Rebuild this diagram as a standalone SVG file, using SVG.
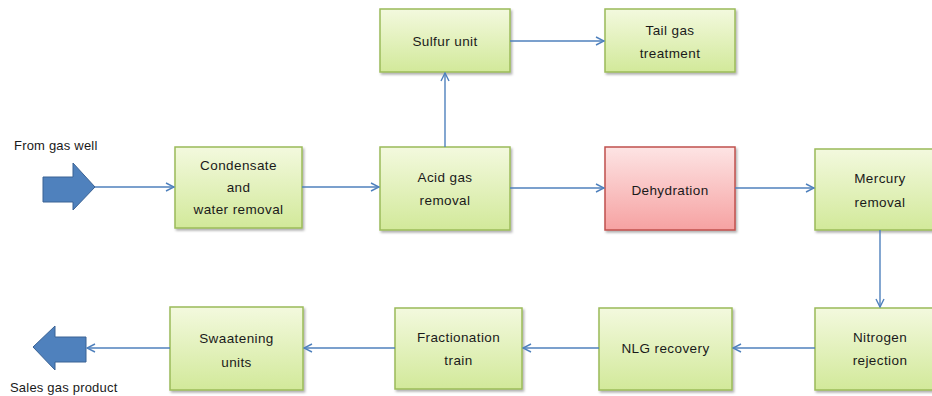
<svg xmlns="http://www.w3.org/2000/svg" width="932" height="396" viewBox="0 0 932 396">
<defs>
<linearGradient id="gg" x1="0" y1="0" x2="0" y2="1">
<stop offset="0" stop-color="#f3f9de"/>
<stop offset="1" stop-color="#d2e99a"/>
</linearGradient>
<linearGradient id="rg" x1="0" y1="0" x2="0" y2="1">
<stop offset="0" stop-color="#fde4e4"/>
<stop offset="1" stop-color="#f6a2a2"/>
</linearGradient>
<filter id="sh" x="-10%" y="-10%" width="125%" height="130%">
<feDropShadow dx="1.5" dy="2" stdDeviation="1.2" flood-color="#000" flood-opacity="0.3"/>
</filter>
<marker id="ah" markerWidth="10" markerHeight="10" refX="9" refY="5" orient="auto" markerUnits="userSpaceOnUse">
<path d="M1,1 L9,5 L1,9" fill="none" stroke="#4f81bd" stroke-width="1.4"/>
</marker>
</defs>
<style>
.g{fill:url(#gg);stroke:#9bbb59;stroke-width:1.5;filter:url(#sh)}
.r{fill:url(#rg);stroke:#c0504d;stroke-width:1.5;filter:url(#sh)}
.t{font-family:"Liberation Sans",Arial,sans-serif;font-size:13.5px;fill:#1a1a1a;text-anchor:middle;letter-spacing:0.4px}
.l{font-family:"Liberation Sans",Arial,sans-serif;font-size:13px;fill:#1a1a1a;letter-spacing:0.2px}
.c{fill:none;stroke:#4f81bd;stroke-width:1.4;marker-end:url(#ah)}
.b{fill:#4f81bd;stroke:#3a6294;stroke-width:1}
</style>
<g id="from-gas-well">
<path class="b" d="M43,177 L73,177 L73,163 L95,187 L73,210 L73,202 L43,202 Z"/>
<text class="l" x="14" y="150">From gas well</text>
</g>
<g id="sales-gas">
<path class="b" d="M86,337 L55,337 L55,326 L33,347 L55,370 L55,362 L86,362 Z"/>
<text class="l" x="10" y="392">Sales gas product</text>
</g>
<g id="condensate">
<rect class="g" x="175" y="147" width="127" height="81"/>
<text class="t" x="238.5" y="170">Condensate</text>
<text class="t" x="238.5" y="192">and</text>
<text class="t" x="238.5" y="214">water removal</text>
</g>
<g id="acid-gas">
<rect class="g" x="380" y="147" width="130" height="83"/>
<text class="t" x="445" y="182">Acid gas</text>
<text class="t" x="445" y="205">removal</text>
</g>
<g id="sulfur">
<rect class="g" x="380" y="9" width="130" height="63"/>
<text class="t" x="445" y="46">Sulfur unit</text>
</g>
<g id="tail-gas">
<rect class="g" x="605" y="9" width="130" height="63"/>
<text class="t" x="670" y="35">Tail gas</text>
<text class="t" x="670" y="58">treatment</text>
</g>
<g id="dehydration">
<rect class="r" x="605" y="147" width="130" height="83"/>
<text class="t" x="670" y="195">Dehydration</text>
</g>
<g id="mercury">
<rect class="g" x="815" y="149" width="130" height="81"/>
<text class="t" x="880" y="183">Mercury</text>
<text class="t" x="880" y="207">removal</text>
</g>
<g id="nitrogen">
<rect class="g" x="815" y="308" width="130" height="82"/>
<text class="t" x="880" y="342">Nitrogen</text>
<text class="t" x="880" y="365">rejection</text>
</g>
<g id="nlg">
<rect class="g" x="599" y="308" width="133" height="82"/>
<text class="t" x="665.5" y="353">NLG recovery</text>
</g>
<g id="fractionation">
<rect class="g" x="395" y="308" width="127" height="81"/>
<text class="t" x="458.5" y="342">Fractionation</text>
<text class="t" x="458.5" y="365">train</text>
</g>
<g id="sweetening">
<rect class="g" x="170" y="307" width="133" height="83"/>
<text class="t" x="236.5" y="343">Swaatening</text>
<text class="t" x="236.5" y="367">units</text>
</g>
<g id="connectors">
<line class="c" x1="95" y1="187" x2="174" y2="187"/>
<line class="c" x1="302" y1="187" x2="379" y2="187"/>
<line class="c" x1="510" y1="188" x2="604" y2="188"/>
<line class="c" x1="445" y1="147" x2="445" y2="73"/>
<line class="c" x1="510" y1="41" x2="604" y2="41"/>
<line class="c" x1="735" y1="188" x2="814" y2="188"/>
<line class="c" x1="880" y1="230" x2="880" y2="307"/>
<line class="c" x1="815" y1="348" x2="733" y2="348"/>
<line class="c" x1="599" y1="348" x2="523" y2="348"/>
<line class="c" x1="395" y1="348" x2="304" y2="348"/>
<line class="c" x1="170" y1="348" x2="87" y2="348"/>
</g>
</svg>
